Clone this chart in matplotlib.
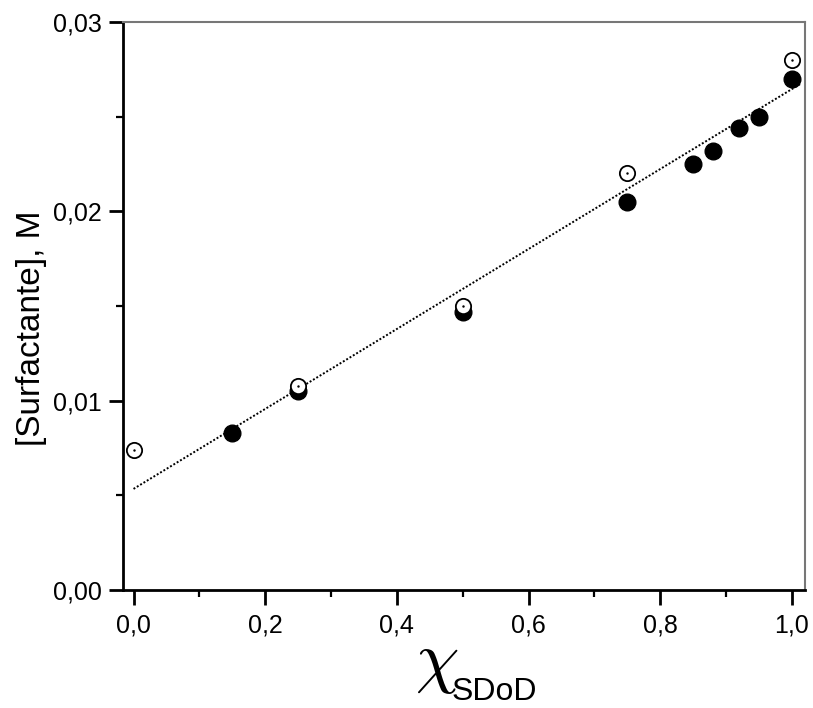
import matplotlib
matplotlib.use("Agg")
import matplotlib.pyplot as plt
from matplotlib.ticker import MultipleLocator, FuncFormatter

plt.rcParams['font.family'] = ['Liberation Sans', 'DejaVu Sans']

# Open circles (with centre dot)
x_open = [0.0, 0.25, 0.50, 0.75, 1.00]
y_open = [0.0074, 0.0108, 0.0150, 0.0220, 0.0280]

# Filled circles
x_fill = [0.15, 0.25, 0.50, 0.75, 0.85, 0.88, 0.92, 0.95, 1.00]
y_fill = [0.0083, 0.0105, 0.0147, 0.0205, 0.0225, 0.0232, 0.0244, 0.0250, 0.0270]

# Linear fit line endpoints
x_fit = [0.0, 1.013]
y_fit = [0.00534, 0.02673]

fig = plt.figure(figsize=(8.13, 7.08), dpi=100)
ax = fig.add_axes([123/813, 1 - 590/708, (805 - 123)/813, (590 - 22)/708])

ax.plot(x_fit, y_fit, color='black', lw=1.4, linestyle=(0, (1, 1)), zorder=2)
ax.plot(x_fill, y_fill, 'o', ms=12, mfc='black', mec='black', zorder=3)
ax.plot(x_open, y_open, 'o', ms=11, mfc='white', mec='black', mew=1.3, zorder=4)
ax.plot(x_open, y_open, '.', ms=1.5, color='black', zorder=5)

ax.set_xlim(-0.016, 1.02)
ax.set_ylim(0.0, 0.03)

ax.xaxis.set_major_locator(MultipleLocator(0.2))
ax.xaxis.set_minor_locator(MultipleLocator(0.1))
ax.yaxis.set_major_locator(MultipleLocator(0.01))
ax.yaxis.set_minor_locator(MultipleLocator(0.005))

ax.xaxis.set_major_formatter(FuncFormatter(lambda v, p: f"{v:.1f}".replace('.', ',')))
ax.yaxis.set_major_formatter(FuncFormatter(lambda v, p: f"{v:.2f}".replace('.', ',')))

ax.tick_params(which='major', direction='out', length=10, width=2, labelsize=18)
ax.tick_params(axis='x', which='major', length=11, pad=6)
ax.tick_params(axis='y', which='major', pad=5)
ax.tick_params(which='minor', direction='out', length=5, width=1.6)

for side in ['left', 'bottom']:
    ax.spines[side].set_linewidth(2)
    ax.spines[side].set_color('black')
for side in ['top', 'right']:
    ax.spines[side].set_linewidth(1.5)
    ax.spines[side].set_color('#777777')

ax.set_ylabel('[Surfactante], M', fontsize=24)
ax.yaxis.set_label_coords((47 - 123)/682, (590 - 328)/568)

fig.text(437/813, 1 - 680/708, r'$\chi$', fontsize=50, ha='center', va='baseline',
         math_fontfamily='cm')
fig.text(452/813, 1 - 700/708, 'SDoD', fontsize=23, ha='left', va='baseline')

fig.savefig('out.png', dpi=100)
